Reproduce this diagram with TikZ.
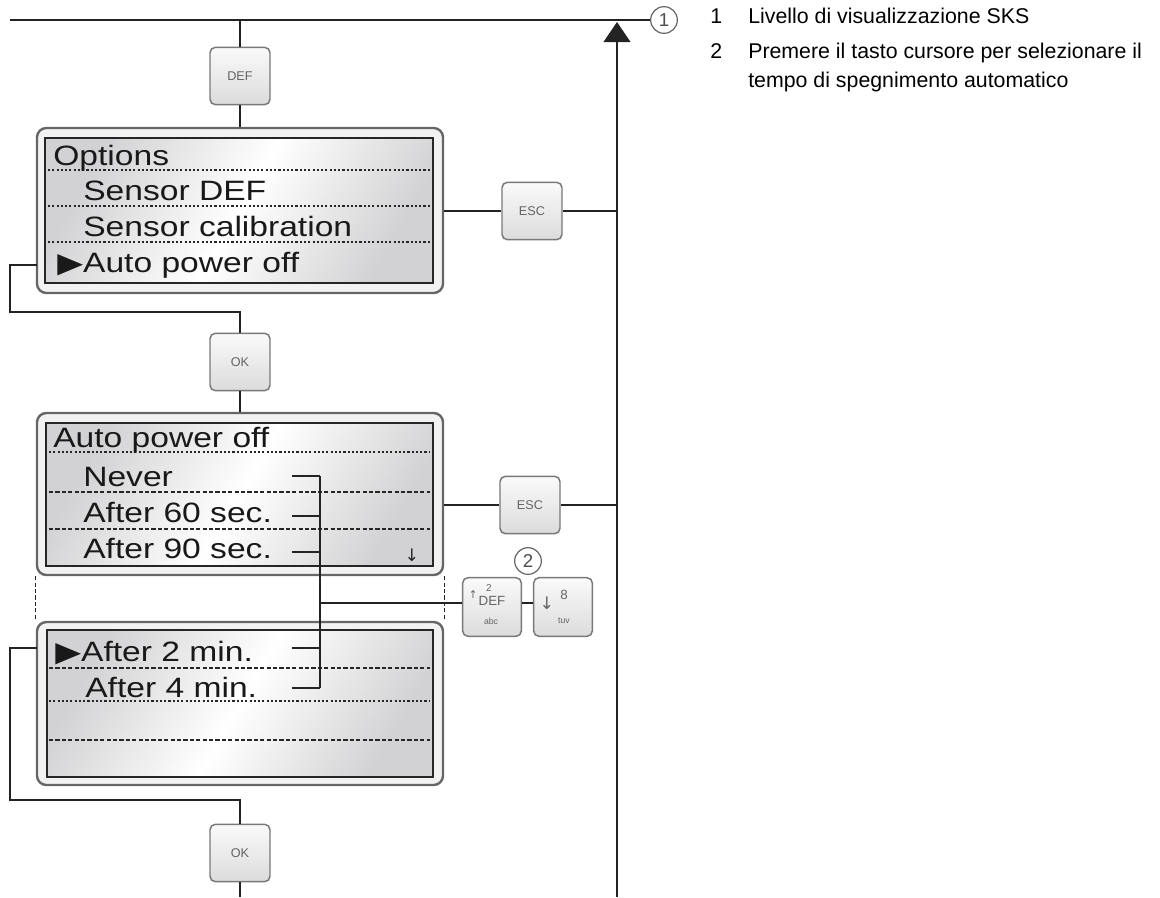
\documentclass[tikz,border=0pt]{standalone}
\usepackage{fontspec}
\setmainfont{Liberation Sans}
\newfontfamily\symfont{DejaVu Sans}
\usepackage{graphicx}
\usetikzlibrary{arrows.meta,positioning,calc,fit}
\definecolor{wire}{RGB}{35,35,35}
\definecolor{keyrim}{RGB}{120,120,120}
\definecolor{keytxt}{RGB}{100,100,100}
\definecolor{lcdgrey}{RGB}{210,210,212}
\newcommand{\lcd}[1]{\scalebox{1.2}[1]{#1}}

\begin{document}
\begin{tikzpicture}[x=0.75pt,y=-0.75pt,
  wire/.style={draw=wire,line width=1.3pt},
  btn/.style={draw=keyrim,line width=1.1pt,rounded corners=4pt,top color=black!2,
              bottom color=black!14,minimum width=45pt,minimum height=43pt,
              inner sep=0pt,text=keytxt,font=\fontsize{9.5}{9.5}\selectfont},
  keylbl/.style={inner sep=0pt,text=keytxt,font=\fontsize{7.5}{7.5}\selectfont},
  lcdframe/.style={draw=black!60,line width=1.8pt,rounded corners=7pt,fill=black!5,
                   inner sep=0pt},
  screen/.style={draw=black!85,line width=1.4pt,left color=lcdgrey,right color=lcdgrey,
                 middle color=white,shading angle=60,inner sep=0pt},
  lcdrow/.style={anchor=base west,inner sep=0pt,text=black!90,
                 font=\fontsize{21}{21}\selectfont},
  dotline/.style={draw=black!85,line width=0.9pt,dash pattern=on 1.6pt off 1.6pt},
  dashline/.style={draw=black!85,line width=0.9pt,dash pattern=on 3.2pt off 1.6pt},
  callout/.style={circle,draw=black!60,line width=0.9pt,minimum size=20pt,
                  inner sep=0pt,text=black!70,font=\fontsize{14}{14}\selectfont},
  notetext/.style={anchor=base west,inner sep=0pt,align=left,
                   font=\fontsize{16}{21.75}\selectfont}]
\useasboundingbox (0,0) rectangle (1160,897);

% displays
\node[lcdframe,fit={(37,128) (443,293)}] (opt) {};
\node[screen,fit={(45,138) (433,283)}] (optlcd) {};
\foreach \y in {170,206,242} \draw[dotline] (48,\y) -- (430,\y);
\node[lcdrow] (o0) at (53,165) {\lcd{Options}};
\node[lcdrow] (o1) at (83,200) {\lcd{Sensor DEF}};
\node[lcdrow] (o2) at (83,236) {\lcd{Sensor calibration}};
\node[lcdrow] (o3) at (57,272) {\lcd{{\symfont ▶}Auto power off}};

\node[lcdframe,fit={(37,413) (443,575)}] (apo) {};
\node[screen,fit={(46,423) (433,566)}] (apolcd) {};
\draw[dotline] (49,452) -- (430,452);
\foreach \y in {492,529} \draw[dashline] (49,\y) -- (430,\y);
\node[lcdrow] (a0) at (53,447) {\lcd{Auto power off}};
\node[lcdrow] (a1) at (83,486) {\lcd{Never}};
\node[lcdrow] (a2) at (83,522) {\lcd{After 60 sec.}};
\node[lcdrow] (a3) at (83,558) {\lcd{After 90 sec.}};
\node[inner sep=0pt,text=black!85,font=\symfont\fontsize{13}{13}\selectfont] (more)
  at (412,555) {↓};

\node[lcdframe,fit={(37,622) (443,785)}] (mins) {};
\node[screen,fit={(47,630) (433,777)}] (minslcd) {};
\foreach \y in {668,740} \draw[dashline] (49,\y) -- (430,\y);
\draw[dotline] (49,701) -- (430,701);
\node[lcdrow] (m1) at (55,661) {\lcd{{\symfont ▶}After 2 min.}};
\node[lcdrow] (m2) at (85,697) {\lcd{After 4 min.}};
\draw[dashline] (apo.south west) -- (mins.north west);
\draw[dashline] (apo.south east) -- (mins.north east);

% keys
\node[btn] (def) at (240,76) {DEF};
\node[btn] (ok1) at (240,362) {OK};
\node[btn] (esc1) at (532,211) {ESC};
\node[btn] (esc2) at (530,505) {ESC};
\node[btn,minimum width=44pt,minimum height=44pt] (up) at (492,607) {};
\node[btn,minimum width=44pt,minimum height=44pt] (down) at (563,607) {};
\node[btn] (ok2) at (240,853) {OK};
\node[keylbl] at ($(up)+(-3,-19)$) {2};
\node[keylbl,font=\fontsize{10}{10}\selectfont] at ($(up)+(0,-6)$) {DEF};
\node[keylbl,font=\fontsize{6.5}{6.5}\selectfont] at ($(up)+(-1,14)$) {abc};
\node[keylbl,font=\symfont\fontsize{8}{8}\selectfont] at ($(up)+(-19,-12)$) {↑};
\node[keylbl,font=\symfont\fontsize{13}{13}\selectfont] at ($(down)+(-16,-4)$) {↓};
\node[keylbl,font=\fontsize{10}{10}\selectfont] at ($(down)+(1,-12)$) {8};
\node[keylbl,font=\fontsize{6.5}{6.5}\selectfont] at ($(down)+(1,14)$) {tuv};

\node[callout] (c1) at (664,20) {1};
\node[callout] (c2) at (528,561) {2};

% connectors
\coordinate (topl) at (10,20);
\coordinate (spine) at (617,897);
\coordinate (spinetop) at (617,22);
\coordinate (l1) at (37,265);
\coordinate (l3) at (37,648);
\coordinate (sel) at (320,603);
\draw[wire] (topl) -- (c1);
\draw[wire,-{Triangle[length=15pt,width=20pt]}] (spine) -- (spinetop);
\draw[wire] (def.north |- topl) -- (def.north);
\draw[wire] (def.south) -- (opt.north);
\draw[wire] (l1) -- (10,265) -- (10,312) -| (ok1.north);
\draw[wire] (ok1.south) -- (apo.north);
\draw[wire] (opt.east |- esc1) -- (esc1.west);
\draw[wire] (esc1.east) -- (esc1 -| spine);
\draw[wire] (apo.east |- esc2) -- (esc2.west);
\draw[wire] (esc2.east) -- (esc2 -| spine);
\foreach \y in {476,516,552,648,688} \draw[wire] (292,\y) -- (320,\y);
\draw[wire] (320,476) -- (320,688);
\draw[wire] (sel) -- (sel -| up.west);
\draw[wire] (up.east |- sel) -- (down.west |- sel);
\draw[wire] (l3) -- (10,648) -- (10,800) -| (ok2.north);
\draw[wire] (ok2.south) -- (ok2.south |- spine);

% legend
\node[notetext] (n1) at (710,23) {1};
\node[notetext] (t1) at (748,23) {Livello di visualizzazione SKS};
\node[notetext] (n2) at (710,58) {2};
\node[notetext] (t2) at (748,87) {Premere il tasto cursore per selezionare il\\
  tempo di spegnimento automatico};
\end{tikzpicture}
\end{document}
